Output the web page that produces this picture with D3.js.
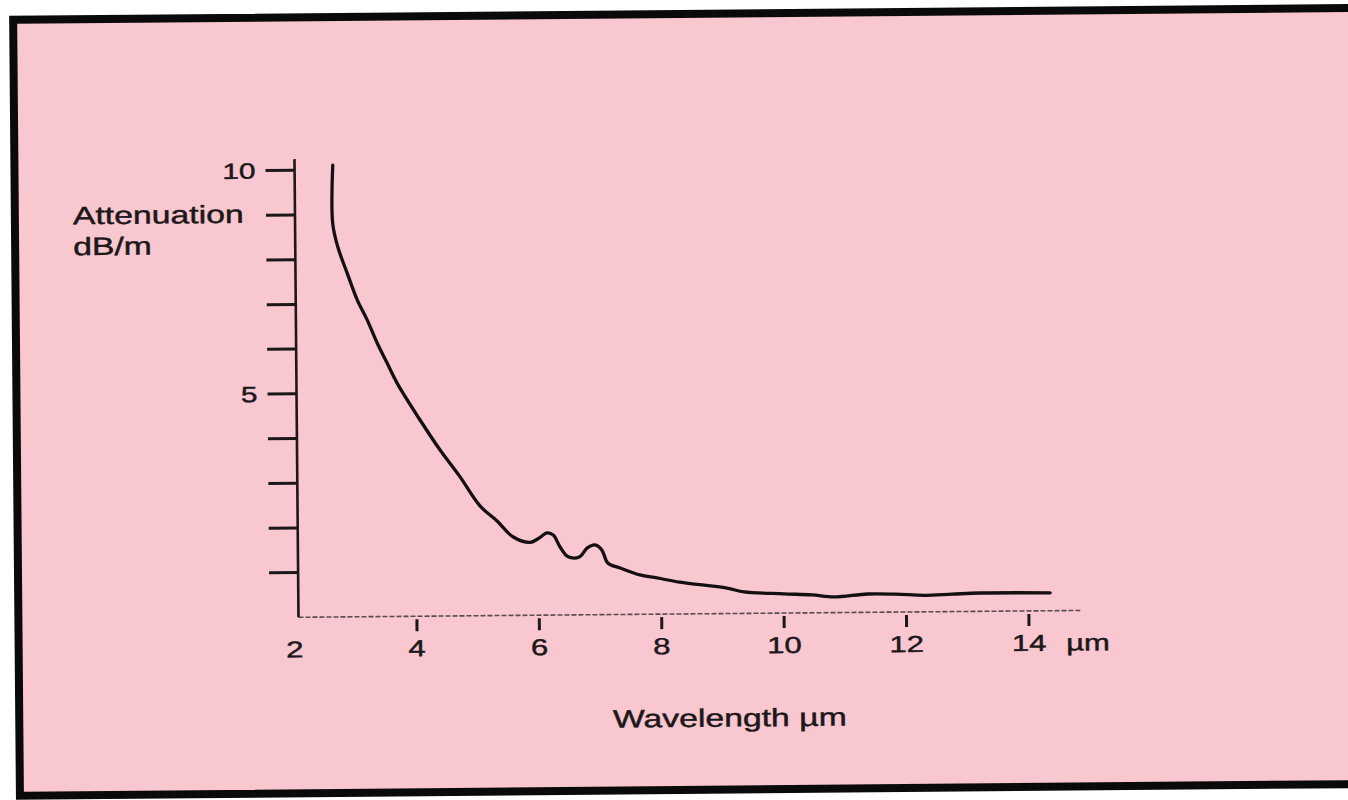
<!DOCTYPE html>
<html>
<head>
<meta charset="utf-8">
<script src="https://cdn.jsdelivr.net/npm/d3@7"></script>
<style>
  html, body { margin: 0; padding: 0; background: #ffffff; overflow: hidden; }
  svg { display: block; }
</style>
</head>
<body>
<svg id="chart" width="1348" height="800"></svg>
<script>
// Attenuation spectrum of an infrared fibre: wavelength (µm) vs attenuation (dB/m)
const wavelength = [2.69, 2.68, 2.76, 2.91, 3.07, 3.23, 3.39, 3.55, 3.71, 4.08, 4.40, 4.72, 5.05, 5.32, 5.58, 5.86, 5.99, 6.14, 6.24, 6.35, 6.48, 6.67, 6.79, 6.92, 7.03, 7.13, 7.33, 7.65, 7.93, 8.30, 9.07, 9.35, 10.00, 10.46, 10.82, 11.37, 11.83, 12.29, 12.75, 13.20, 14.35];
const attenuation = [10.11, 8.81, 8.28, 7.69, 7.09, 6.64, 6.12, 5.67, 5.22, 4.39, 3.72, 3.12, 2.45, 2.12, 1.76, 1.63, 1.71, 1.84, 1.79, 1.52, 1.30, 1.30, 1.49, 1.56, 1.45, 1.15, 1.04, 0.88, 0.81, 0.71, 0.57, 0.48, 0.43, 0.40, 0.35, 0.41, 0.40, 0.37, 0.39, 0.41, 0.40];

const xTickValues = [2, 4, 6, 8, 10, 12, 14];
const xTickMarks = [4, 6, 8, 10, 12, 14];
const yTickMarks = [1, 2, 3, 4, 5, 6, 7, 8, 9, 10];
const yTickLabels = [10, 5];
const xUnit = "µm";
const yTitle = ["Attenuation", "dB/m"];
const xTitle = "Wavelength µm";

const ink = "#1c181a";
const font = "'Liberation Sans', Arial, Helvetica, sans-serif";
const stretch = 1.35; // lettering is drawn wide

const svg = d3.select("#chart");
const root = svg.append("g").attr("transform", "rotate(-0.5 674 400)");

// panel with heavy black frame
root.append("rect")
  .attr("x", 16.5).attr("y", 14)
  .attr("width", 1360).attr("height", 776)
  .attr("fill", "#f9c7d0")
  .attr("stroke", "#0a0a0a")
  .attr("stroke-width", 8);

const x = d3.scaleLinear().domain([2, 14]).range([292.6, 1027]);
const y = d3.scaleLinear().domain([0, 10]).range([614, 167]);
const axisX = 296.6;

// widen glyphs and give them a slightly heavier print
function wideText(sel) {
  sel.attr("stroke", ink).attr("stroke-width", 0.45);
  sel.each(function () {
    const len = this.getComputedTextLength();
    if (len > 0) {
      d3.select(this)
        .attr("textLength", len * stretch)
        .attr("lengthAdjust", "spacingAndGlyphs");
    }
  });
  return sel;
}

// x axis baseline (thin, dotted print)
root.append("line")
  .attr("x1", axisX).attr("x2", x(14.84))
  .attr("y1", y(0)).attr("y2", y(0))
  .attr("stroke", "#5b4a50")
  .attr("stroke-width", 1.6)
  .attr("stroke-dasharray", "5 2");

// x tick marks
root.append("g").selectAll("line")
  .data(xTickMarks)
  .join("line")
  .attr("x1", d => x(d)).attr("x2", d => x(d))
  .attr("y1", y(0) + 3).attr("y2", y(0) + 15)
  .attr("stroke", ink)
  .attr("stroke-width", 3);

// x tick labels
root.append("g").selectAll("text")
  .data(xTickValues)
  .join("text")
  .attr("x", d => x(d))
  .attr("y", y(0) + 40)
  .attr("text-anchor", "middle")
  .attr("font-family", font)
  .attr("font-size", 23)
  .attr("fill", ink)
  .text(d => d)
  .call(wideText);

root.append("text")
  .attr("x", x(14) + 37)
  .attr("y", y(0) + 40)
  .attr("font-family", font)
  .attr("font-size", 23)
  .attr("fill", ink)
  .text(xUnit)
  .call(wideText);

// y axis line
root.append("line")
  .attr("x1", axisX).attr("x2", axisX)
  .attr("y1", y(10.25)).attr("y2", y(0))
  .attr("stroke", ink)
  .attr("stroke-width", 2.6);

// y tick marks (pointing left)
root.append("g").selectAll("line")
  .data(yTickMarks)
  .join("line")
  .attr("x1", axisX - 29).attr("x2", axisX)
  .attr("y1", d => y(d)).attr("y2", d => y(d))
  .attr("stroke", ink)
  .attr("stroke-width", 3);

// y tick labels
root.append("g").selectAll("text")
  .data(yTickLabels)
  .join("text")
  .attr("x", axisX - 39)
  .attr("y", d => y(d) + 8)
  .attr("text-anchor", "end")
  .attr("font-family", font)
  .attr("font-size", 22)
  .attr("fill", ink)
  .text(d => d)
  .call(wideText);

// y title (two lines, left of the axis)
root.append("g").selectAll("text")
  .data(yTitle)
  .join("text")
  .attr("x", 74.5)
  .attr("y", (d, i) => 219 + i * 31)
  .attr("font-family", font)
  .attr("font-size", 25)
  .attr("fill", ink)
  .text(d => d)
  .call(wideText);

// x title
root.append("text")
  .attr("x", 727)
  .attr("y", 727)
  .attr("text-anchor", "middle")
  .attr("font-family", font)
  .attr("font-size", 25)
  .attr("fill", ink)
  .text(xTitle)
  .call(wideText);

// attenuation curve
const points = wavelength.map((w, i) => [w, attenuation[i]]);
const line = d3.line()
  .x(d => x(d[0]))
  .y(d => y(d[1]))
  .curve(d3.curveCatmullRom.alpha(0.5));

root.append("path")
  .datum(points)
  .attr("d", line)
  .attr("fill", "none")
  .attr("stroke", "#141012")
  .attr("stroke-width", 3.3)
  .attr("stroke-linejoin", "round")
  .attr("stroke-linecap", "round");
</script>
</body>
</html>
